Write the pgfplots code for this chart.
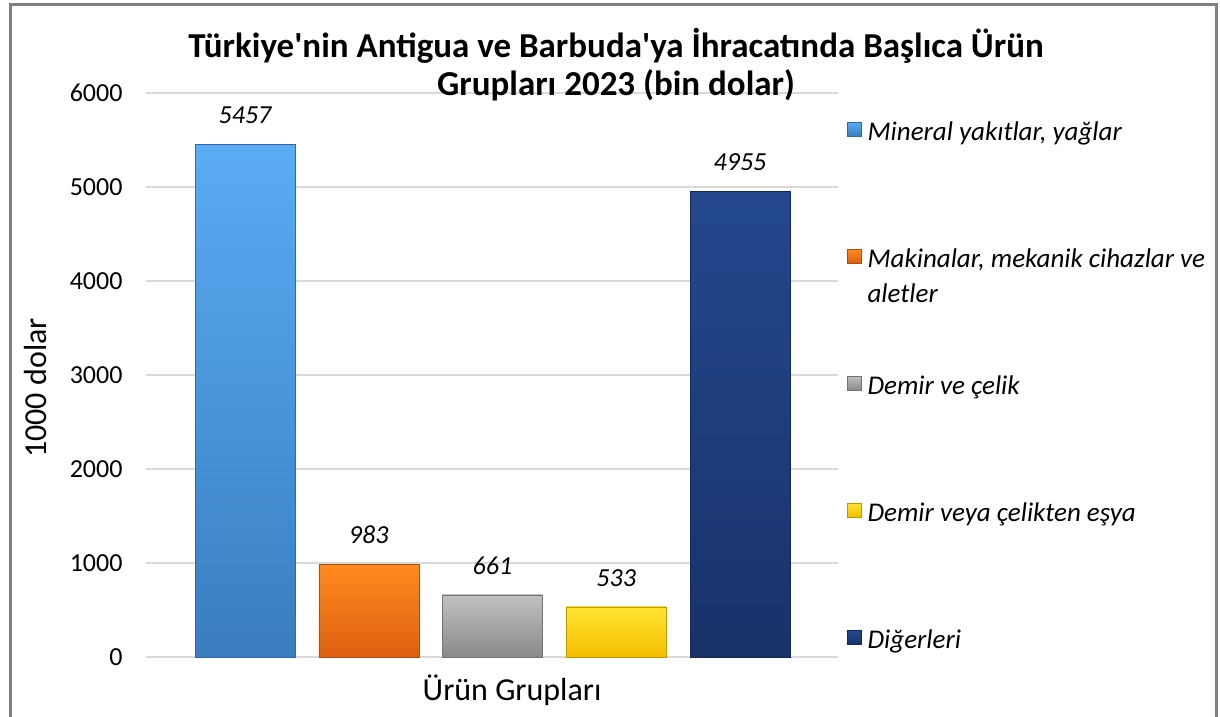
\documentclass[border=0pt]{standalone}
\usepackage{fontspec}
\setmainfont{Carlito}[Ligatures=TeXOff]
\usepackage{pgfplots}
\pgfplotsset{compat=1.18}
\definecolor{frm}{RGB}{128,128,128}
\definecolor{grd}{RGB}{217,217,217}
\newcommand\legtxt[1]{\raisebox{0pt}[\height][0pt]{\begin{tabular}[t]{@{}l@{}}#1\end{tabular}}}
\pgfplotsset{
  barA/.style={top color={rgb,255:red,90;green,172;blue,244}, bottom color={rgb,255:red,58;green,125;blue,192}, draw={rgb,255:red,50;green,105;blue,165}},
  barB/.style={top color={rgb,255:red,255;green,138;blue,32}, bottom color={rgb,255:red,222;green,96;blue,16}, draw={rgb,255:red,170;green,80;blue,20}},
  barC/.style={top color={rgb,255:red,192;green,192;blue,192}, bottom color={rgb,255:red,138;green,138;blue,138}, draw={rgb,255:red,115;green,115;blue,115}},
  barD/.style={top color={rgb,255:red,255;green,228;blue,50}, bottom color={rgb,255:red,245;green,190;blue,0}, draw={rgb,255:red,190;green,150;blue,0}},
  barE/.style={top color={rgb,255:red,36;green,72;blue,142}, bottom color={rgb,255:red,24;green,50;blue,105}, draw={rgb,255:red,20;green,40;blue,85}},
}
\begin{document}
\begin{tikzpicture}
\useasboundingbox (0pt,0pt) rectangle (1220pt,716pt);
\begin{axis}[
  at={(146pt,59pt)}, anchor=south west,
  scale only axis, width=692pt, height=564pt,
  xmin=-0.8, xmax=4.792, ymin=0, ymax=6000,
  ytick={0,1000,...,6000},
  xtick=\empty,
  ymajorgrids, grid style={grd, line width=1.8pt},
  axis line style={draw=none},
  major tick length=0pt,
  /pgf/number format/assume math mode=true,
  /pgf/number format/1000 sep={},
  yticklabel style={font=\fontsize{26}{30}\selectfont, xshift=-20pt},
  ybar, bar width=100pt, bar shift=0pt,
  nodes near coords,
  nodes near coords style={font=\fontsize{26}{30}\selectfont\itshape, yshift=17pt, /pgf/number format/1000 sep={}},
  ylabel={1000 dolar},
  ylabel style={font=\fontsize{32}{36}\selectfont, at={(axis description cs:-0.159,0.477)}, anchor=center},
  xlabel={Ürün Grupları},
  xlabel style={font=\fontsize{32}{36}\selectfont, at={(axis description cs:0.529,-0.0585)}, anchor=center},
  legend image code/.code={\draw[#1] (0pt,-7pt) rectangle (14pt,7pt);},
  legend cell align=left,
  legend style={draw=none, fill=none, inner sep=0pt, at={(axis description cs:1.013,0.963)}, anchor=north west,
    font=\fontsize{27}{35}\selectfont\itshape, row sep=97pt,
    /tikz/every odd column/.append style={column sep=4pt}},
]
\addplot[barA] coordinates {(0,5457)};
\addlegendentry{\legtxt{Mineral yakıtlar, yağlar}}
\addplot[barB] coordinates {(1,983)};
\addlegendentry{\legtxt{Makinalar, mekanik cihazlar ve\\aletler}}
\addplot[barC] coordinates {(2,661)};
\addlegendentry{\legtxt{Demir ve çelik}}
\addplot[barD] coordinates {(3,533)};
\addlegendentry{\legtxt{Demir veya çelikten eşya}}
\addplot[barE] coordinates {(4,4955)};
\addlegendentry{\legtxt{Diğerleri}}
\end{axis}
\node[anchor=base, inner sep=0pt, font=\fontsize{35}{38}\selectfont\bfseries] at (616pt,658pt) {Türkiye'nin Antigua ve Barbuda'ya İhracatında Başlıca Ürün};
\node[anchor=base, inner sep=0pt, font=\fontsize{35}{38}\selectfont\bfseries] at (616pt,620pt) {Grupları 2023 (bin dolar)};
\draw[frm, line width=3pt] (10pt,-5pt) -- (10pt,711pt) -- (1216pt,711pt) -- (1216pt,-5pt);
\end{tikzpicture}
\end{document}
